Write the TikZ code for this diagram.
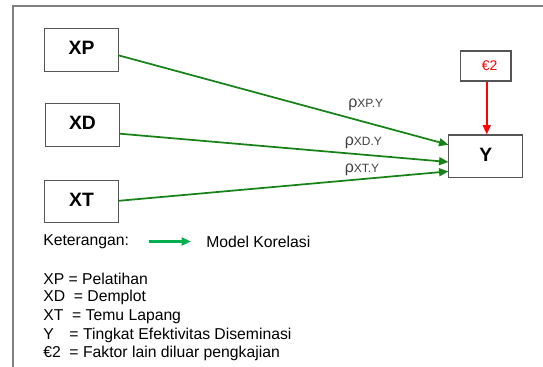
\documentclass[tikz,border=0pt]{standalone}
\usepackage{fontspec}
\setmainfont{Liberation Sans}
\usetikzlibrary{arrows.meta}
\definecolor{dgreen}{HTML}{178217}
\definecolor{lgreen}{HTML}{00B050}
\definecolor{boxgray}{HTML}{555555}
\begin{document}
\begin{tikzpicture}[x=0.75pt,y=-0.75pt,
  varbox/.style={draw=boxgray,line width=0.9pt,minimum width=55.5pt,minimum height=32pt,inner sep=0pt,text depth=2.5pt,font=\fontsize{14.5}{16}\selectfont\bfseries},
  garrow/.style={draw=dgreen,line width=1.3pt,-{Triangle[length=7pt,width=6pt]}},
  rlabel/.style={font=\fontsize{9}{10}\selectfont,text=black!75,inner sep=0pt},
  legtext/.style={font=\fontsize{11.8}{13}\selectfont,inner sep=0pt,anchor=west}]
\useasboundingbox (0,0) rectangle (543,367);
\draw[draw=black!50,line width=0.9pt] (13,367) -- (13,6) -- (543,6);
\node[varbox] (xp) at (81.5,50) {XP};
\node[varbox] (xd) at (82.5,125) {XD};
\node[varbox] (xt) at (81.5,201.5) {XT};
\node[varbox] (y) at (485.8,156.3) {Y};
\node[draw=boxgray,line width=0.9pt,minimum width=38pt,minimum height=22.5pt,inner sep=0pt,text=red,font=\fontsize{10.5}{12}\selectfont] (e) at (485.6,66) {\hspace*{6pt}€2};
\coordinate (xps) at (118.8,55.4);
\coordinate (xds) at (119.8,133.7);
\coordinate (xts) at (118.8,200.8);
\coordinate (ype) at (448.4,144.7);
\coordinate (yde) at (448.4,162);
\coordinate (yte) at (448.4,171.4);
\draw[garrow] (xps) -- (ype);
\draw[garrow] (xds) -- (yde);
\draw[garrow] (xts) -- (yte);
\draw[draw=red,line width=1.3pt,-{Triangle[length=7pt,width=6pt]}] (e.south -| 486.8,0) -- (y.north -| 486.8,0);
\node[rlabel,anchor=west] (l1) at (348,105) {{\fontsize{12}{12}\selectfont ρ}XP.Y};
\node[rlabel,anchor=west] (l2) at (344.5,143) {{\fontsize{12}{12}\selectfont ρ}XD.Y};
\node[rlabel,anchor=west] (l3) at (344.5,169.5) {{\fontsize{12}{12}\selectfont ρ}XT.Y};
\node[legtext] (ket) at (43,241.5) {Keterangan:};
\coordinate (la) at (149,241.5);
\coordinate (lb) at (191,241.5);
\draw[draw=lgreen,line width=1.6pt,-{Triangle[length=7pt,width=6pt]}] (la) -- (lb);
\node[legtext] (mk) at (206,241.5) {Model Korelasi};
\node[legtext] (d1) at (43,279) {XP = Pelatihan};
\node[legtext] (d2) at (43,297.8) {XD \ = Demplot};
\node[legtext] (d3) at (43,316.8) {XT \ = Temu Lapang};
\node[legtext] (d4) at (43,335.2) {Y \ \ \,= Tingkat Efektivitas Diseminasi};
\node[legtext] (d5) at (43,353.9) {€2 \ = Faktor lain diluar pengkajian};
\end{tikzpicture}
\end{document}
